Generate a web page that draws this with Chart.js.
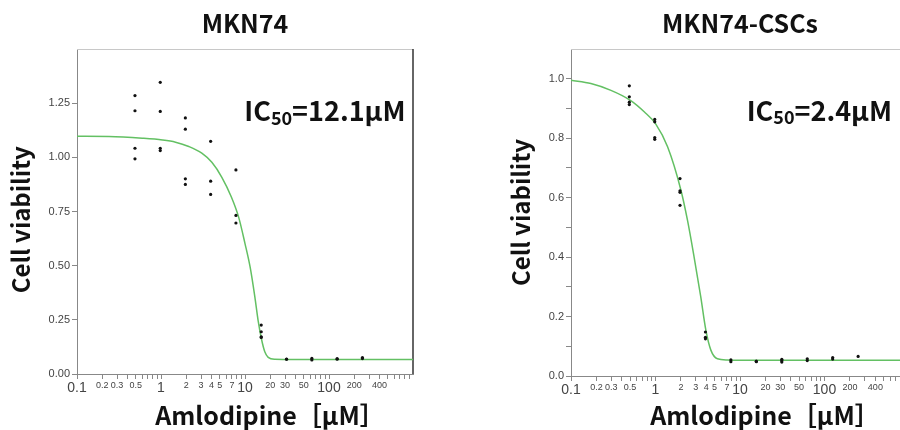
<!DOCTYPE html>
<html>
<head>
<meta charset="utf-8">
<script src="https://cdn.jsdelivr.net/npm/chart.js@4.4.1/dist/chart.umd.min.js"></script>
<style>
html, body { margin: 0; padding: 0; background: #fff; overflow: hidden; }
#wrap { position: relative; width: 900px; height: 430px; overflow: hidden; }
#c1 { position: absolute; left: 0; top: 0; }
#c2 { position: absolute; left: 450px; top: 0; }
</style>
</head>
<body>
<div id="wrap">
  <canvas id="c1" width="450" height="430"></canvas>
  <canvas id="c2" width="470" height="430"></canvas>
</div>
<script>
// doses (uM) and replicate viability readings
const doses = [0.49, 0.98, 1.95, 3.9, 7.8, 15.6, 31.25, 62.5, 125, 250];
const mkn74Values = [
  [1.285, 1.215, 1.042, 0.993],
  [1.346, 1.212, 1.042, 1.031],
  [1.182, 1.13, 0.901, 0.875],
  [1.074, 0.89, 0.829],
  [0.942, 0.732, 0.697],
  [0.226, 0.195, 0.172, 0.169],
  [0.069, 0.068],
  [0.072, 0.065],
  [0.068, 0.071],
  [0.076, 0.071]
];
const cscValues = [
  [0.976, 0.939, 0.921, 0.913],
  [0.863, 0.855, 0.802, 0.796],
  [0.664, 0.623, 0.618, 0.574],
  [0.148, 0.130, 0.125],
  [0.054, 0.048],
  [0.050, 0.048],
  [0.056, 0.047, 0.051],
  [0.058, 0.052],
  [0.062, 0.057],
  [0.066]
];

// fitted curves
const mkn74CurveX = [0.1, 0.24, 0.6, 1.04, 1.49, 2.14, 3.06, 4.03, 5.3, 6.9, 8.4, 10.0, 11.5, 13.1, 14.3, 15.8, 17.2, 18.9, 22.6, 39, 1000];
const mkn74CurveY = [1.097, 1.096, 1.088, 1.080, 1.070, 1.050, 1.019, 0.977, 0.908, 0.816, 0.724, 0.602, 0.494, 0.356, 0.249, 0.157, 0.103, 0.077, 0.068, 0.067, 0.067];
const cscCurveX = [0.1, 0.172, 0.297, 0.5, 0.74, 1.0, 1.39, 2.0, 2.39, 2.86, 3.43, 3.94, 4.52, 5.4, 7.1, 10.2, 1000];
const cscCurveY = [0.995, 0.984, 0.961, 0.928, 0.888, 0.849, 0.771, 0.625, 0.524, 0.401, 0.267, 0.155, 0.087, 0.058, 0.054, 0.053, 0.053];

// axis ticks
const xTickValues = [0.1, 0.2, 0.3, 0.4, 0.5, 0.6, 0.7, 0.8, 0.9,
  1, 2, 3, 4, 5, 6, 7, 8, 9,
  10, 20, 30, 40, 50, 60, 70, 80, 90,
  100, 200, 300, 400, 500, 600, 700, 800, 900];
const xTickLabels = ['0.1', '0.2', '0.3', '0.5', '1', '2', '3', '4', '5', '7', '10', '20', '30', '50', '100', '200', '400'];
const xMajorLabels = ['0.1', '1', '10', '100'];
const mkn74YTicks = [0, 0.25, 0.5, 0.75, 1, 1.25];
const cscYTicks = [0, 0.1, 0.2, 0.3, 0.4, 0.5, 0.6, 0.7, 0.8, 0.9, 1.0];
const cscYLabels = [0, 0.2, 0.4, 0.6, 0.8, 1.0];

const boldFont = '"Noto Sans CJK JP", "Noto Sans", sans-serif';
const tickFont = '"Liberation Sans", Arial, sans-serif';

function toPoints(xs, vals) {
  const pts = [];
  xs.forEach(function (x, i) {
    vals[i].forEach(function (v) { pts.push({ x: x, y: v }); });
  });
  return pts;
}

function zip(xs, ys) {
  return xs.map(function (x, i) { return { x: x, y: ys[i] }; });
}

function fmtX(v) {
  return v < 1 ? v.toFixed(1) : String(Math.round(v));
}

const frame = {
  id: 'frame',
  beforeDatasetsDraw: function (chart) {
    const a = chart.chartArea;
    const ctx = chart.ctx;
    ctx.save();
    ctx.strokeStyle = '#c8c8c8';
    ctx.lineWidth = 1;
    ctx.beginPath();
    ctx.moveTo(a.left, a.top + 0.5);
    ctx.lineTo(a.right, a.top + 0.5);
    ctx.stroke();
    ctx.strokeStyle = '#333';
    ctx.lineWidth = 1.5;
    ctx.beginPath();
    ctx.moveTo(a.right, a.top);
    ctx.lineTo(a.right, a.bottom);
    ctx.stroke();
    ctx.restore();
  }
};

const ic50Label = {
  id: 'ic50Label',
  afterDatasetsDraw: function (chart, args, opts) {
    const ctx = chart.ctx;
    let x = chart.scales.x.getPixelForValue(opts.x);
    const y = chart.scales.y.getPixelForValue(opts.y);
    ctx.save();
    ctx.fillStyle = '#111';
    ctx.textBaseline = 'middle';
    ctx.textAlign = 'left';
    ctx.font = 'bold 27px ' + boldFont;
    ctx.fillText('IC', x, y);
    x += ctx.measureText('IC').width;
    ctx.font = 'bold 18px ' + boldFont;
    ctx.fillText('50', x, y + 7);
    x += ctx.measureText('50').width;
    ctx.font = 'bold 27px ' + boldFont;
    ctx.fillText('=' + opts.text + 'μM', x, y);
    ctx.restore();
  }
};

function makeChart(id, cfg) {
  return new Chart(document.getElementById(id), {
    type: 'scatter',
    data: {
      datasets: [
        {
          data: toPoints(doses, cfg.values),
          pointRadius: 1.6,
          pointBackgroundColor: '#111',
          pointBorderWidth: 0,
          showLine: false
        },
        {
          data: zip(cfg.curveX, cfg.curveY),
          showLine: true,
          pointRadius: 0,
          borderColor: '#63c063',
          borderWidth: 1.5,
          cubicInterpolationMode: 'monotone'
        }
      ]
    },
    options: {
      responsive: false,
      animation: false,
      layout: { padding: cfg.padding },
      scales: {
        x: {
          type: 'logarithmic',
          min: 0.1,
          max: 1000,
          afterBuildTicks: function (scale) {
            scale.ticks = xTickValues.map(function (v) { return { value: v }; });
          },
          afterFit: function (scale) { scale.height = cfg.xHeight; },
          grid: { drawOnChartArea: false, drawTicks: true, tickLength: 5, color: '#888' },
          border: { display: true, color: '#888', width: 1 },
          ticks: {
            autoSkip: false,
            maxRotation: 0,
            padding: 1,
            color: '#444',
            callback: function (v) {
              const s = fmtX(v);
              return xTickLabels.indexOf(s) >= 0 ? s : '';
            },
            font: function (c) {
              const s = fmtX(c.tick.value);
              return { family: tickFont, size: xMajorLabels.indexOf(s) >= 0 ? 14 : 9 };
            }
          },
          title: {
            display: true,
            text: '\u3000\u3000Amlodipine［μM］',
            color: '#111',
            font: { family: boldFont, size: 25, weight: 'bold' },
            padding: { top: 0, bottom: cfg.xTitlePad }
          }
        },
        y: {
          min: 0,
          max: cfg.yMax,
          afterBuildTicks: function (scale) {
            scale.ticks = cfg.yTicks.map(function (v) { return { value: v }; });
          },
          afterFit: function (scale) { scale.width = cfg.yWidth; },
          grid: { drawOnChartArea: false, drawTicks: true, tickLength: 5, color: '#888' },
          border: { display: true, color: '#888', width: 1 },
          ticks: {
            color: '#444',
            padding: 2,
            font: { family: tickFont, size: 11 },
            callback: cfg.yLabel
          },
          title: {
            display: true,
            text: cfg.yTitle,
            color: '#111',
            font: { family: boldFont, size: 24, weight: 'bold' },
            padding: { top: 6, bottom: 0 }
          }
        }
      },
      plugins: {
        legend: { display: false },
        tooltip: { enabled: false },
        title: {
          display: true,
          text: cfg.title,
          fullSize: false,
          color: '#111',
          font: { family: boldFont, size: 25, weight: 'bold', lineHeight: 1.2 },
          padding: { top: 8, bottom: 11 }
        },
        ic50Label: cfg.ic50
      }
    },
    plugins: [frame, ic50Label]
  });
}

makeChart('c1', {
  title: 'MKN74',
  yTitle: 'Cell viability   ',
  values: mkn74Values,
  curveX: mkn74CurveX,
  curveY: mkn74CurveY,
  yMax: 1.5,
  yTicks: mkn74YTicks,
  yLabel: function (v) { return v.toFixed(2); },
  padding: { left: 0, right: 37, top: 0, bottom: 0 },
  yWidth: 77,
  xHeight: 56,
  xTitlePad: 0,
  ic50: { x: 9.8, y: 1.215, text: '12.1' }
});

makeChart('c2', {
  title: 'MKN74-CSCs',
  yTitle: 'Cell viability',
  values: cscValues,
  curveX: cscCurveX,
  curveY: cscCurveY,
  yMax: 1.1,
  yTicks: cscYTicks,
  yLabel: function (v) {
    return cscYLabels.some(function (t) { return Math.abs(t - v) < 1e-6; }) ? v.toFixed(1) : '';
  },
  padding: { left: 50, right: 11, top: 0, bottom: 0 },
  yWidth: 71,
  xHeight: 54,
  xTitlePad: 0,
  ic50: { x: 12.0, y: 0.894, text: '2.4' }
});
</script>
</body>
</html>
